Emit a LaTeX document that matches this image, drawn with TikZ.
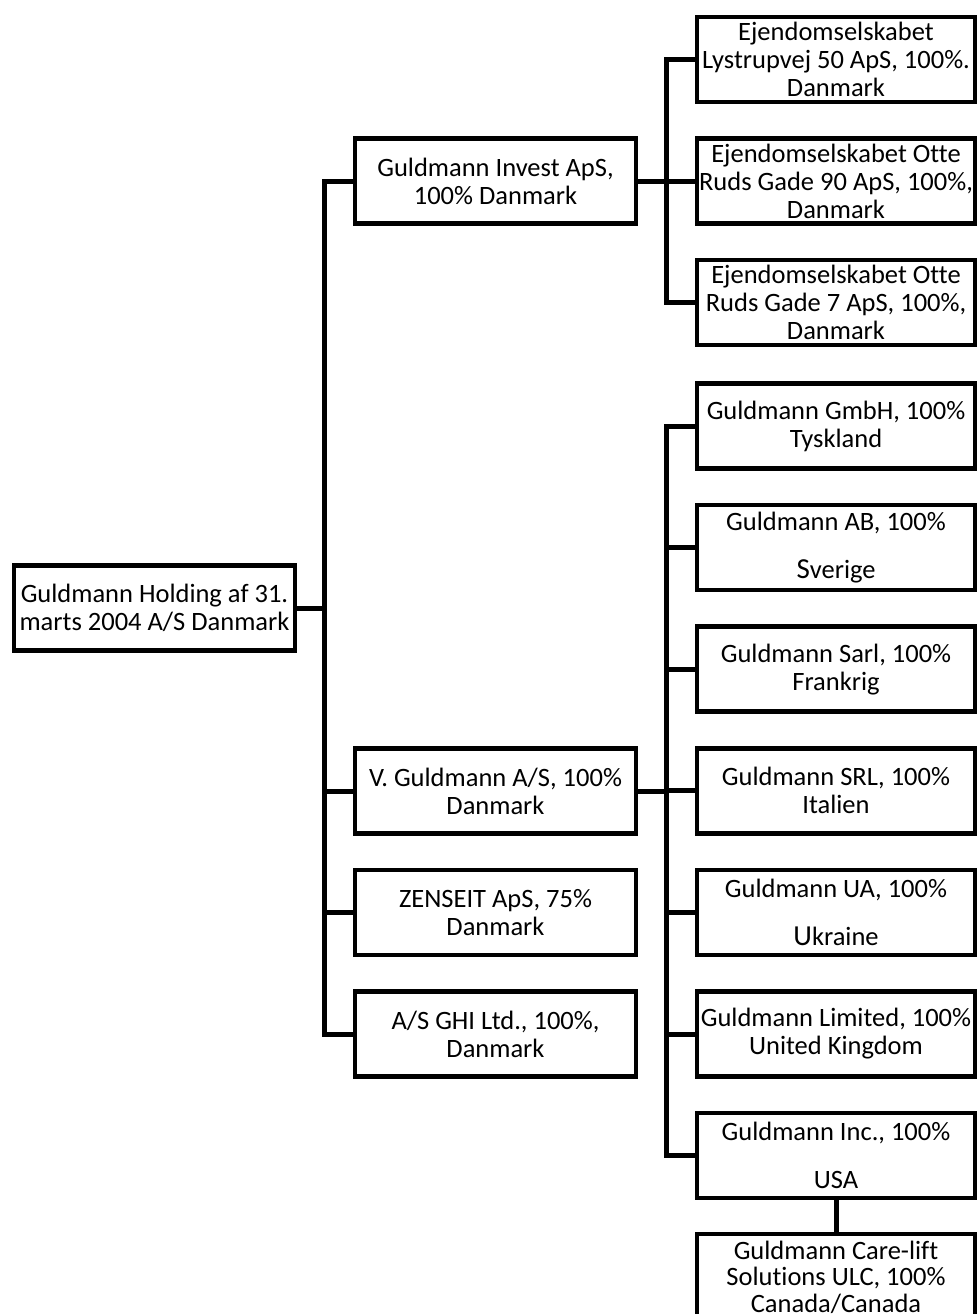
\documentclass[tikz,border=0pt]{standalone}
\usepackage{fontspec}
\setmainfont{Carlito}[Ligatures=NoCommon]
\usetikzlibrary{positioning}

\begin{document}
\begin{tikzpicture}[x=1pt,y=-1pt,
    link/.style={line width=5pt},
    company/.style={draw,rectangle,line width=4.5pt,inner sep=0pt,align=center,
                    minimum height=85pt,font=\fontsize{26.5}{28}\selectfont}]
\useasboundingbox (0,0) rectangle (978,1314);

\begin{scope}[every node/.style={company,minimum width=281pt}]
    \node (holding) at (154.5,608) {Guldmann Holding af 31.\\marts 2004 A/S Danmark};
    \node (invest)  at (495.5,181) {Guldmann Invest ApS,\\100\% Danmark};
    \node (vguld)   at (495.5,791) {V. Guldmann A/S, 100\%\\Danmark};
    \node[below=32.1pt of vguld]   (zenseit) {ZENSEIT ApS, 75\%\\Danmark};
    \node[below=32.1pt of zenseit] (ghi)     {A/S GHI Ltd., 100\%,\\Danmark};
\end{scope}

\begin{scope}[every node/.style={company,minimum width=278pt}]
    % ejendomsselskaber
    \node (otte90) at (836,181) {Ejendomselskabet Otte\\Ruds Gade 90 ApS, 100\%,\\Danmark};
    \node[above=32.1pt of otte90] (lystrup) {Ejendomselskabet\\Lystrupvej 50 ApS, 100\%.\\Danmark};
    \node[below=32.1pt of otte90] (otte7)   {Ejendomselskabet Otte\\Ruds Gade 7 ApS, 100\%,\\Danmark};
    % datterselskaber
    \node (tysk) at (836,426) {Guldmann GmbH, 100\%\\Tyskland};
    \node[below=32.1pt of tysk]  (sverige) {Guldmann AB, 100\%\\[20pt]{\fontsize{29}{28}\selectfont S}verige};
    \node[below=32.1pt of sverige] (frank) {Guldmann Sarl, 100\%\\Frankrig};
    \node[below=32.1pt of frank] (ital)    {Guldmann SRL, 100\%\\Italien};
    \node[below=32.1pt of ital]  (ukr)     {Guldmann UA, 100\%\\[20pt]{\fontsize{29}{28}\selectfont U}kraine};
    \node[below=32.1pt of ukr]   (uk)      {Guldmann Limited, 100\%\\United Kingdom};
    \node[below=32.1pt of uk]    (usa)     {Guldmann Inc., 100\%\\[20pt]USA};
    \node[below=28.5pt of usa,minimum height=86pt,anchor=north,
          font=\fontsize{26.5}{26.5}\selectfont,yshift=-3pt] (canada)
          {Guldmann Care-lift\\Solutions ULC, 100\%\\Canada/Canada};
\end{scope}

\draw[link] (holding.east) -- ++(27.5,0) coordinate (trunk);
\foreach \n in {invest,vguld,zenseit,ghi}
    \draw[link] (trunk) |- (\n.west);

\draw[link] (invest.east) -- ++(28.5,0) coordinate (ibus);
\foreach \n in {lystrup,otte90,otte7}
    \draw[link] (ibus) |- (\n.west);

\draw[link] (vguld.east) -- ++(28.5,0) coordinate (vbus);
\foreach \n in {tysk,sverige,frank,ital,ukr,uk,usa}
    \draw[link] (vbus) |- (\n.west);

\draw[link] (usa) -- (canada);
\end{tikzpicture}
\end{document}
